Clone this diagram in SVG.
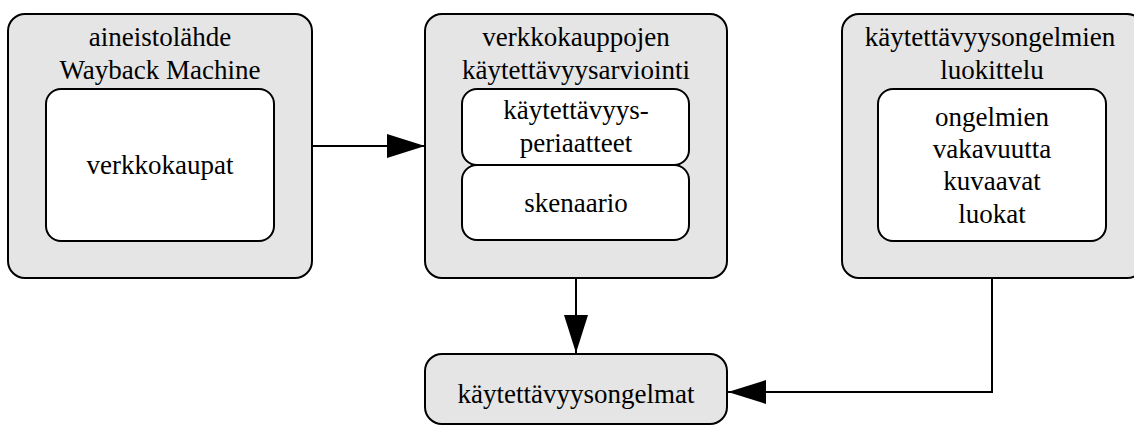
<svg xmlns="http://www.w3.org/2000/svg" width="1134" height="426" viewBox="0 0 1134 426">
<defs>
<style>
.outer{fill:#e5e5e5;stroke:#000;stroke-width:2}
.inner{fill:#fff;stroke:#000;stroke-width:2}
text{font-family:'Liberation Serif',Tinos,'Noto Serif','DejaVu Serif',serif;font-size:27px;fill:#000;text-anchor:middle}
.edge{fill:none;stroke:#000;stroke-width:2}
</style>
<marker id="ah" markerWidth="38" markerHeight="26" refX="38" refY="12" orient="auto" markerUnits="userSpaceOnUse">
<path d="M0,0 L38,12 L0,24 Z" fill="#000"/>
</marker>
</defs>
<g id="connectors">
<path class="edge" d="M312,146 L425,146" marker-end="url(#ah)"/>
<path class="edge" d="M576,278 L576,353" marker-end="url(#ah)"/>
<path class="edge" d="M992,278 L992,392 L728,392" marker-end="url(#ah)"/>
</g>
<g id="source">
<rect class="outer" x="8" y="14" width="304" height="264" rx="17"/>
<text x="160" y="46">aineistolähde</text>
<text x="160" y="79">Wayback Machine</text>
<g id="verkkokaupat">
<rect class="inner" x="46" y="89" width="228" height="152" rx="15"/>
<text x="160" y="174">verkkokaupat</text>
</g>
</g>
<g id="evaluation">
<rect class="outer" x="425" y="14" width="302" height="264" rx="17"/>
<text x="576" y="46">verkkokauppojen</text>
<text x="576" y="79">käytettävyysarviointi</text>
<g id="principles">
<rect class="inner" x="462" y="89" width="227" height="76" rx="15"/>
<text x="576" y="119">käytettävyys-</text>
<text x="576" y="152">periaatteet</text>
</g>
<g id="scenario">
<rect class="inner" x="462" y="165" width="227" height="75" rx="15"/>
<text x="576" y="212">skenaario</text>
</g>
</g>
<g id="classification">
<rect class="outer" x="842" y="14" width="302" height="264" rx="17"/>
<text x="990" y="46">käytettävyysongelmien</text>
<text x="992" y="79">luokittelu</text>
<g id="classes">
<rect class="inner" x="878" y="89" width="228" height="152" rx="15"/>
<text x="992" y="126">ongelmien</text>
<text x="992" y="158">vakavuutta</text>
<text x="992" y="190">kuvaavat</text>
<text x="992" y="223">luokat</text>
</g>
</g>
<g id="problems">
<rect class="outer" x="425" y="354" width="302" height="70" rx="17"/>
<text x="576" y="403">käytettävyysongelmat</text>
</g>
</svg>
